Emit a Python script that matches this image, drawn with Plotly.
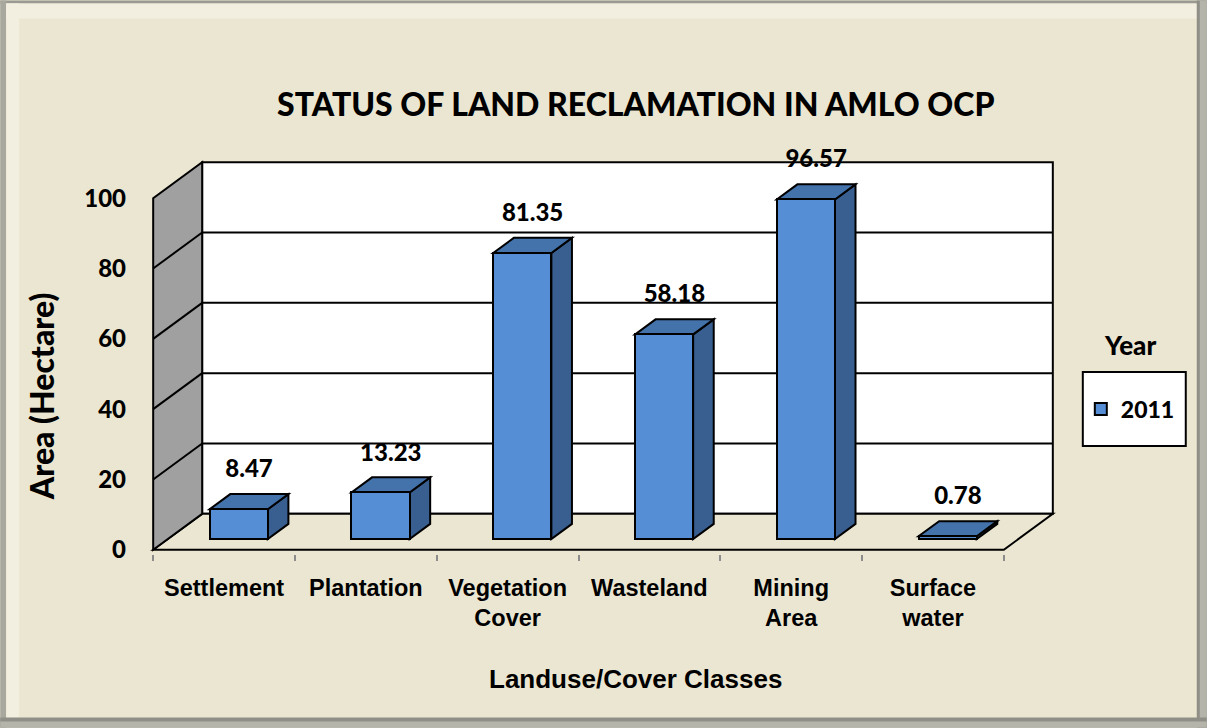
import plotly.graph_objects as go

# ---------------- data ----------------
categories = ["Settlement", "Plantation", "Vegetation<br>Cover", "Wasteland", "Mining<br>Area", "Surface<br>water"]
areas = [8.47, 13.23, 81.35, 58.18, 96.57, 0.78]
value_labels = ["8.47", "13.23", "81.35", "58.18", "96.57", "0.78"]
y_ticks = [0, 20, 40, 60, 80, 100]
series_name = "2011"
legend_title = "Year"
chart_title = "STATUS OF LAND RECLAMATION IN AMLO OCP"
x_title = "Landuse/Cover Classes"
y_title = "Area (Hectare)"

# ---------------- geometry (pseudo-3D projection) ----------------
W, H = 1207, 728
FX0, FX1 = 153, 1004      # front floor edge, pixels
FY0 = 550                 # value 0 at front, pixels
PX_PER_UNIT = 3.52
DEPTH_X_PX, DEPTH_Y_PX = 49, 36
n = len(categories)
slot_px = (FX1 - FX0) / n
DX = DEPTH_X_PX / slot_px          # depth in category units
DY = DEPTH_Y_PX / PX_PER_UNIT      # depth in value units
YMAX = y_ticks[-1]
F0, F1 = 0.30, 0.72                # bar front/back depth fractions
BW = 0.41                          # bar width (category units)

xr = [-0.6, n - 0.5 + DX + 0.1]
yr = [-1.2, YMAX + DY + 1.2]

def px(x): return FX0 + (x + 0.5) * slot_px
def py(v): return FY0 - v * PX_PER_UNIT

ml = px(xr[0]); mr = W - px(xr[1]); mt = py(yr[1]); mb = H - py(yr[0])
pw = W - ml - mr; ph = H - mt - mb
def paper_x(p): return (p - ml) / pw
def paper_y(p): return (H - mb - p) / ph

BG = "#EBE6D1"
FRONT = "#558ED5"
TOP = "#4472AA"
SIDE = "#395F90"
CAL = "Lato"
ARI = "Liberation Sans, Arial"
HEAVY = 900

shapes = []
def path(pts):
    return "M " + " L ".join(f"{a},{b}" for a, b in pts) + " Z"

# back wall
shapes.append(dict(type="rect", xref="x", yref="y", x0=-0.5 + DX, x1=n - 0.5 + DX,
                   y0=DY, y1=YMAX + DY, fillcolor="white",
                   line=dict(color="black", width=2), layer="below"))
for v in y_ticks[1:-1]:
    shapes.append(dict(type="line", xref="x", yref="y", x0=-0.5 + DX, x1=n - 0.5 + DX,
                       y0=v + DY, y1=v + DY, line=dict(color="black", width=2), layer="below"))
# floor
shapes.append(dict(type="path", xref="x", yref="y",
                   path=path([(-0.5, 0), (-0.5 + DX, DY), (n - 0.5 + DX, DY), (n - 0.5, 0)]),
                   fillcolor=BG, line=dict(color="black", width=2), layer="below"))
# left wall
shapes.append(dict(type="path", xref="x", yref="y",
                   path=path([(-0.5, 0), (-0.5 + DX, DY), (-0.5 + DX, YMAX + DY), (-0.5, YMAX)]),
                   fillcolor="#A0A0A0", line=dict(color="black", width=2), layer="below"))
for v in y_ticks[1:-1]:
    shapes.append(dict(type="line", xref="x", yref="y", x0=-0.5, x1=-0.5 + DX,
                       y0=v, y1=v + DY, line=dict(color="black", width=2), layer="below"))

# bar sides & tops
d = F1 - F0
base0 = F0 * DY
bar_x = [i + F0 * DX for i in range(n)]
for xc, v in zip(bar_x, areas):
    xl, xrt = xc - BW / 2, xc + BW / 2
    top = base0 + v
    shapes.append(dict(type="path", xref="x", yref="y",
                       path=path([(xrt, base0), (xrt, top), (xrt + d * DX, top + d * DY), (xrt + d * DX, base0 + d * DY)]),
                       fillcolor=SIDE, line=dict(color="black", width=2), layer="below"))
    shapes.append(dict(type="path", xref="x", yref="y",
                       path=path([(xl, top), (xrt, top), (xrt + d * DX, top + d * DY), (xl + d * DX, top + d * DY)]),
                       fillcolor=TOP, line=dict(color="black", width=2), layer="below"))

# frame bevel (paper coords from pixels)
def prect(x0, y0, x1, y1, color):
    shapes.append(dict(type="rect", xref="paper", yref="paper",
                       x0=paper_x(x0), x1=paper_x(x1), y0=paper_y(y1), y1=paper_y(y0),
                       fillcolor=color, line=dict(width=0), layer="below"))
prect(0, 0, W, 3, "#9A9A92")
prect(0, 0, 6, H, "#A9A89F")
prect(6, 3, W - 10, 18, "#F3EFE0")
prect(6, 3, 19, H - 10, "#F3EFE0")
prect(W - 10, 0, W, H, "#8F8F88")
prect(W - 7, 0, W, H, "#B5B4AB")
prect(0, H - 10, W, H, "#8F8F88")
prect(0, H - 6, W, H, "#B5B4AB")
# legend box
shapes.append(dict(type="rect", xref="paper", yref="paper",
                   x0=paper_x(1083), x1=paper_x(1186), y0=paper_y(446), y1=paper_y(372),
                   fillcolor="white", line=dict(color="black", width=2), layer="above"))

fig = go.Figure()
fig.add_trace(go.Bar(x=bar_x, y=areas, base=[base0] * n, width=BW, name=series_name,
                     marker=dict(color=FRONT, line=dict(color="black", width=2)),
                     hoverinfo="skip"))
fig.add_trace(go.Scatter(x=[xc + d * DX / 2 for xc in bar_x], y=[v + base0 + 10.8 for v in areas],
                         mode="text", text=value_labels, showlegend=False, cliponaxis=False,
                         textfont=dict(family=CAL, size=24, color="black", weight=HEAVY),
                         hoverinfo="skip"))

annotations = [
    dict(text=chart_title, x=paper_x(636), y=paper_y(103), xref="paper", yref="paper",
         showarrow=False, xanchor="center", yanchor="middle",
         font=dict(family=CAL, size=32, color="black", weight=HEAVY)),
    dict(text=y_title, x=paper_x(42), y=paper_y(396), xref="paper", yref="paper",
         showarrow=False, xanchor="center", yanchor="middle", textangle=-90,
         font=dict(family=CAL, size=32, color="black", weight=HEAVY)),
    dict(text=f"<b>{x_title}</b>", x=paper_x(636), y=paper_y(679), xref="paper", yref="paper",
         showarrow=False, xanchor="center", yanchor="middle", font=dict(family=ARI, size=26, color="black")),
    dict(text=legend_title, x=paper_x(1130), y=paper_y(345), xref="paper", yref="paper",
         showarrow=False, xanchor="center", yanchor="middle",
         font=dict(family=CAL, size=26, color="black", weight=HEAVY)),
]

fig.update_layout(
    width=W, height=H, margin=dict(l=ml, r=mr, t=mt, b=mb, pad=0, autoexpand=False),
    paper_bgcolor=BG, plot_bgcolor="rgba(0,0,0,0)",
    shapes=shapes, annotations=annotations, bargap=0,
    showlegend=True,
    legend=dict(x=paper_x(1081), y=paper_y(409), xanchor="left", yanchor="middle",
                bgcolor="rgba(0,0,0,0)", borderwidth=0,
                font=dict(family=CAL, size=23, color="black", weight=HEAVY)),
    xaxis=dict(range=xr, tickvals=list(range(n)), ticktext=[f"<b>{c}</b>" for c in categories],
               showgrid=False, zeroline=False, showline=False, ticks="",
               tickfont=dict(family=ARI, size=23.5, color="black"), ticklabelstandoff=17,
               minor=dict(ticks="outside", tick0=-0.5, dtick=1, ticklen=6, tickwidth=2,
                          tickcolor="#8C8C8C", showgrid=False), fixedrange=True),
    yaxis=dict(range=yr, tickvals=y_ticks, showgrid=False, zeroline=False, showline=False, ticks="",
               tickfont=dict(family=CAL, size=24, color="black", weight=HEAVY), ticklabelstandoff=12,
               fixedrange=True),
)

fig.write_html("out.html", config={"displayModeBar": False},
               post_script="document.body.style.margin='0';")
